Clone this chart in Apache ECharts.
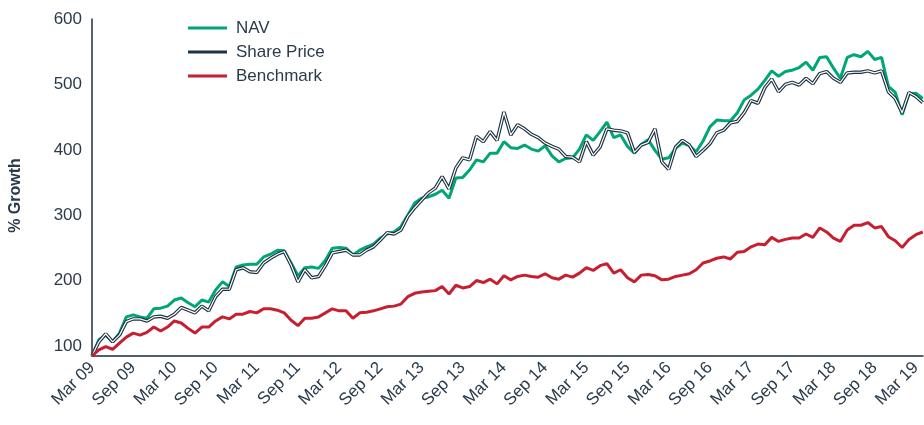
<!DOCTYPE html>
<html>
<head>
<meta charset="utf-8">
<script src="https://cdn.jsdelivr.net/npm/echarts@6/dist/echarts.min.js"></script>
<style>
  html, body { margin: 0; padding: 0; background: #fff; }
  #container { width: 924px; height: 425px; }
</style>
</head>
<body>
<div id="container"></div>
<script>
// monthly points, Mar 09 .. Apr 19
var monthNames = ['Jan', 'Feb', 'Mar', 'Apr', 'May', 'Jun', 'Jul', 'Aug', 'Sep', 'Oct', 'Nov', 'Dec'];
var months = [];
for (let i = 0; i < 122; ++i) {
  let m = (2 + i) % 12;
  let y = 9 + Math.floor((2 + i) / 12);
  months.push(monthNames[m] + ' ' + (y < 10 ? '0' + y : y));
}

var nav = [
  100, 124, 131, 121, 134, 158, 161, 158, 156, 170, 171, 174,
  183, 186, 179, 173, 183, 180, 198, 210, 203, 232, 235, 236,
  236, 247, 251, 257, 256, 238, 219, 231, 232, 230, 242, 260,
  261, 260, 250, 257, 262, 266, 275, 281, 284, 292, 309, 327,
  334, 336, 340, 346, 334, 364, 365, 376, 391, 388, 401, 401,
  418, 409, 408, 413, 407, 404, 412, 397, 388, 393, 394, 407,
  428, 420, 433, 447, 424, 428, 411, 401, 414, 421, 405, 392,
  394, 408, 416, 412, 403, 419, 440, 450, 449, 449, 461, 480,
  487, 496, 509, 523, 515, 522, 524, 528, 536, 524, 543, 544,
  527, 512, 543, 547, 544, 552, 540, 543, 500, 491, 458, 489,
  490, 482
];

var sharePrice = [
  100, 121, 133, 121, 131, 151, 155, 155, 152, 158, 159, 156,
  162, 172, 168, 164, 174, 167, 188, 199, 199, 228, 231, 225,
  224, 238, 245, 251, 255, 235, 210, 228, 216, 218, 234, 253,
  255, 257, 250, 250, 257, 262, 272, 283, 281, 287, 307, 320,
  331, 342, 349, 366, 348, 379, 394, 391, 426, 418, 433, 420,
  462, 428, 443, 437, 429, 424, 416, 411, 407, 396, 395, 388,
  418, 398, 410, 437, 435, 434, 431, 402, 413, 417, 437, 388,
  377, 410, 420, 413, 396, 405, 415, 431, 435, 446, 448, 461,
  479, 475, 498, 511, 492, 503, 506, 502, 512, 504, 519, 522,
  512, 506, 520, 521, 521, 523, 520, 523, 492, 482, 461, 491,
  485, 476
];

var benchmark = [
  100, 109, 114, 110, 119, 128, 134, 131, 135, 143, 137, 143,
  152, 149, 141, 134, 143, 143, 152, 158, 155, 162, 162, 166,
  164, 170, 170, 168, 164, 153, 145, 156, 156, 158, 164, 170,
  167, 167, 156, 164, 165, 167, 170, 173, 174, 177, 188, 193,
  195, 196, 197, 203, 192, 205, 201, 203, 212, 209, 214, 207,
  219, 213, 218, 220, 218, 217, 222, 216, 214, 220, 217, 223,
  231, 227, 234, 237, 223, 228, 216, 210, 220, 221, 219, 213,
  214, 218, 220, 222, 228, 238, 241, 245, 247, 244, 254, 255,
  262, 266, 265, 276, 270, 273, 275, 275, 281, 276, 290, 284,
  275, 270, 287, 294, 294, 298, 290, 292, 277, 271, 261, 273,
  280, 284
];

var textColor = '#2a3b4c';
var fontFamily = "'Liberation Sans', Arial, sans-serif";

var dom = document.getElementById('container');
var myChart = echarts.init(dom, null, { renderer: 'canvas' });

var option = {
  animation: false,
  textStyle: { fontFamily: fontFamily, color: textColor },
  grid: {
    left: 92,
    right: 0,
    top: 19,
    bottom: 69
  },
  legend: {
    data: ['NAV', 'Share Price', 'Benchmark'],
    orient: 'vertical',
    left: 183,
    top: 14,
    icon: 'rect',
    itemWidth: 39,
    itemHeight: 3,
    itemGap: 6,
    selectedMode: false,
    textStyle: {
      fontSize: 17,
      lineHeight: 18,
      color: textColor,
      fontFamily: fontFamily,
      padding: [0, 0, 0, 4]
    }
  },
  xAxis: {
    type: 'category',
    boundaryGap: false,
    data: months,
    axisLine: { lineStyle: { color: '#4f5f6d', width: 2 } },
    axisTick: { show: false },
    axisLabel: {
      interval: 5,
      rotate: 45,
      margin: 9,
      fontSize: 17,
      color: textColor,
      fontFamily: fontFamily
    },
    splitLine: { show: false }
  },
  yAxis: [
    {
      // value axis the lines are drawn on
      type: 'value',
      min: 100,
      max: 600,
      interval: 100,
      axisLine: { show: true, lineStyle: { color: '#1e3040', width: 1.5 } },
      axisTick: { show: false },
      axisLabel: { show: false },
      splitLine: { show: false }
    },
    {
      // label axis: the tick labels in the original sit a bit tighter than the plot
      type: 'value',
      position: 'left',
      min: 85,
      max: 600,
      name: '% Growth',
      nameLocation: 'middle',
      nameGap: 68,
      nameTextStyle: {
        fontSize: 16,
        fontWeight: 'bold',
        color: textColor,
        fontFamily: fontFamily,
        padding: [0, 16, 0, 0]
      },
      axisLine: { show: false },
      axisTick: { show: false },
      axisLabel: {
        margin: 10,
        fontSize: 17,
        color: textColor,
        fontFamily: fontFamily,
        showMinLabel: false,
        formatter: function(v) { return v % 100 === 0 ? String(v) : ''; }
      },
      splitLine: { show: false }
    }
  ],
  series: [
    {
      name: 'NAV',
      type: 'line',
      data: nav,
      symbol: 'none',
      color: '#00a676',
      lineStyle: { width: 3, color: '#00a676' }
    },
    {
      name: 'Share Price',
      type: 'line',
      data: sharePrice,
      symbol: 'none',
      color: '#1d3344',
      lineStyle: { width: 3.5, color: '#1d3344' }
    },
    {
      // white core of the share price line
      name: 'Share Price core',
      type: 'line',
      data: sharePrice,
      symbol: 'none',
      silent: true,
      color: '#ffffff',
      lineStyle: { width: 1.2, color: '#ffffff' }
    },
    {
      name: 'Benchmark',
      type: 'line',
      data: benchmark,
      symbol: 'none',
      color: '#c61f30',
      lineStyle: { width: 3, color: '#c61f30' }
    }
  ]
};

myChart.setOption(option);
window.onresize = function() {
  myChart.resize();
};
</script>
</body>
</html>
